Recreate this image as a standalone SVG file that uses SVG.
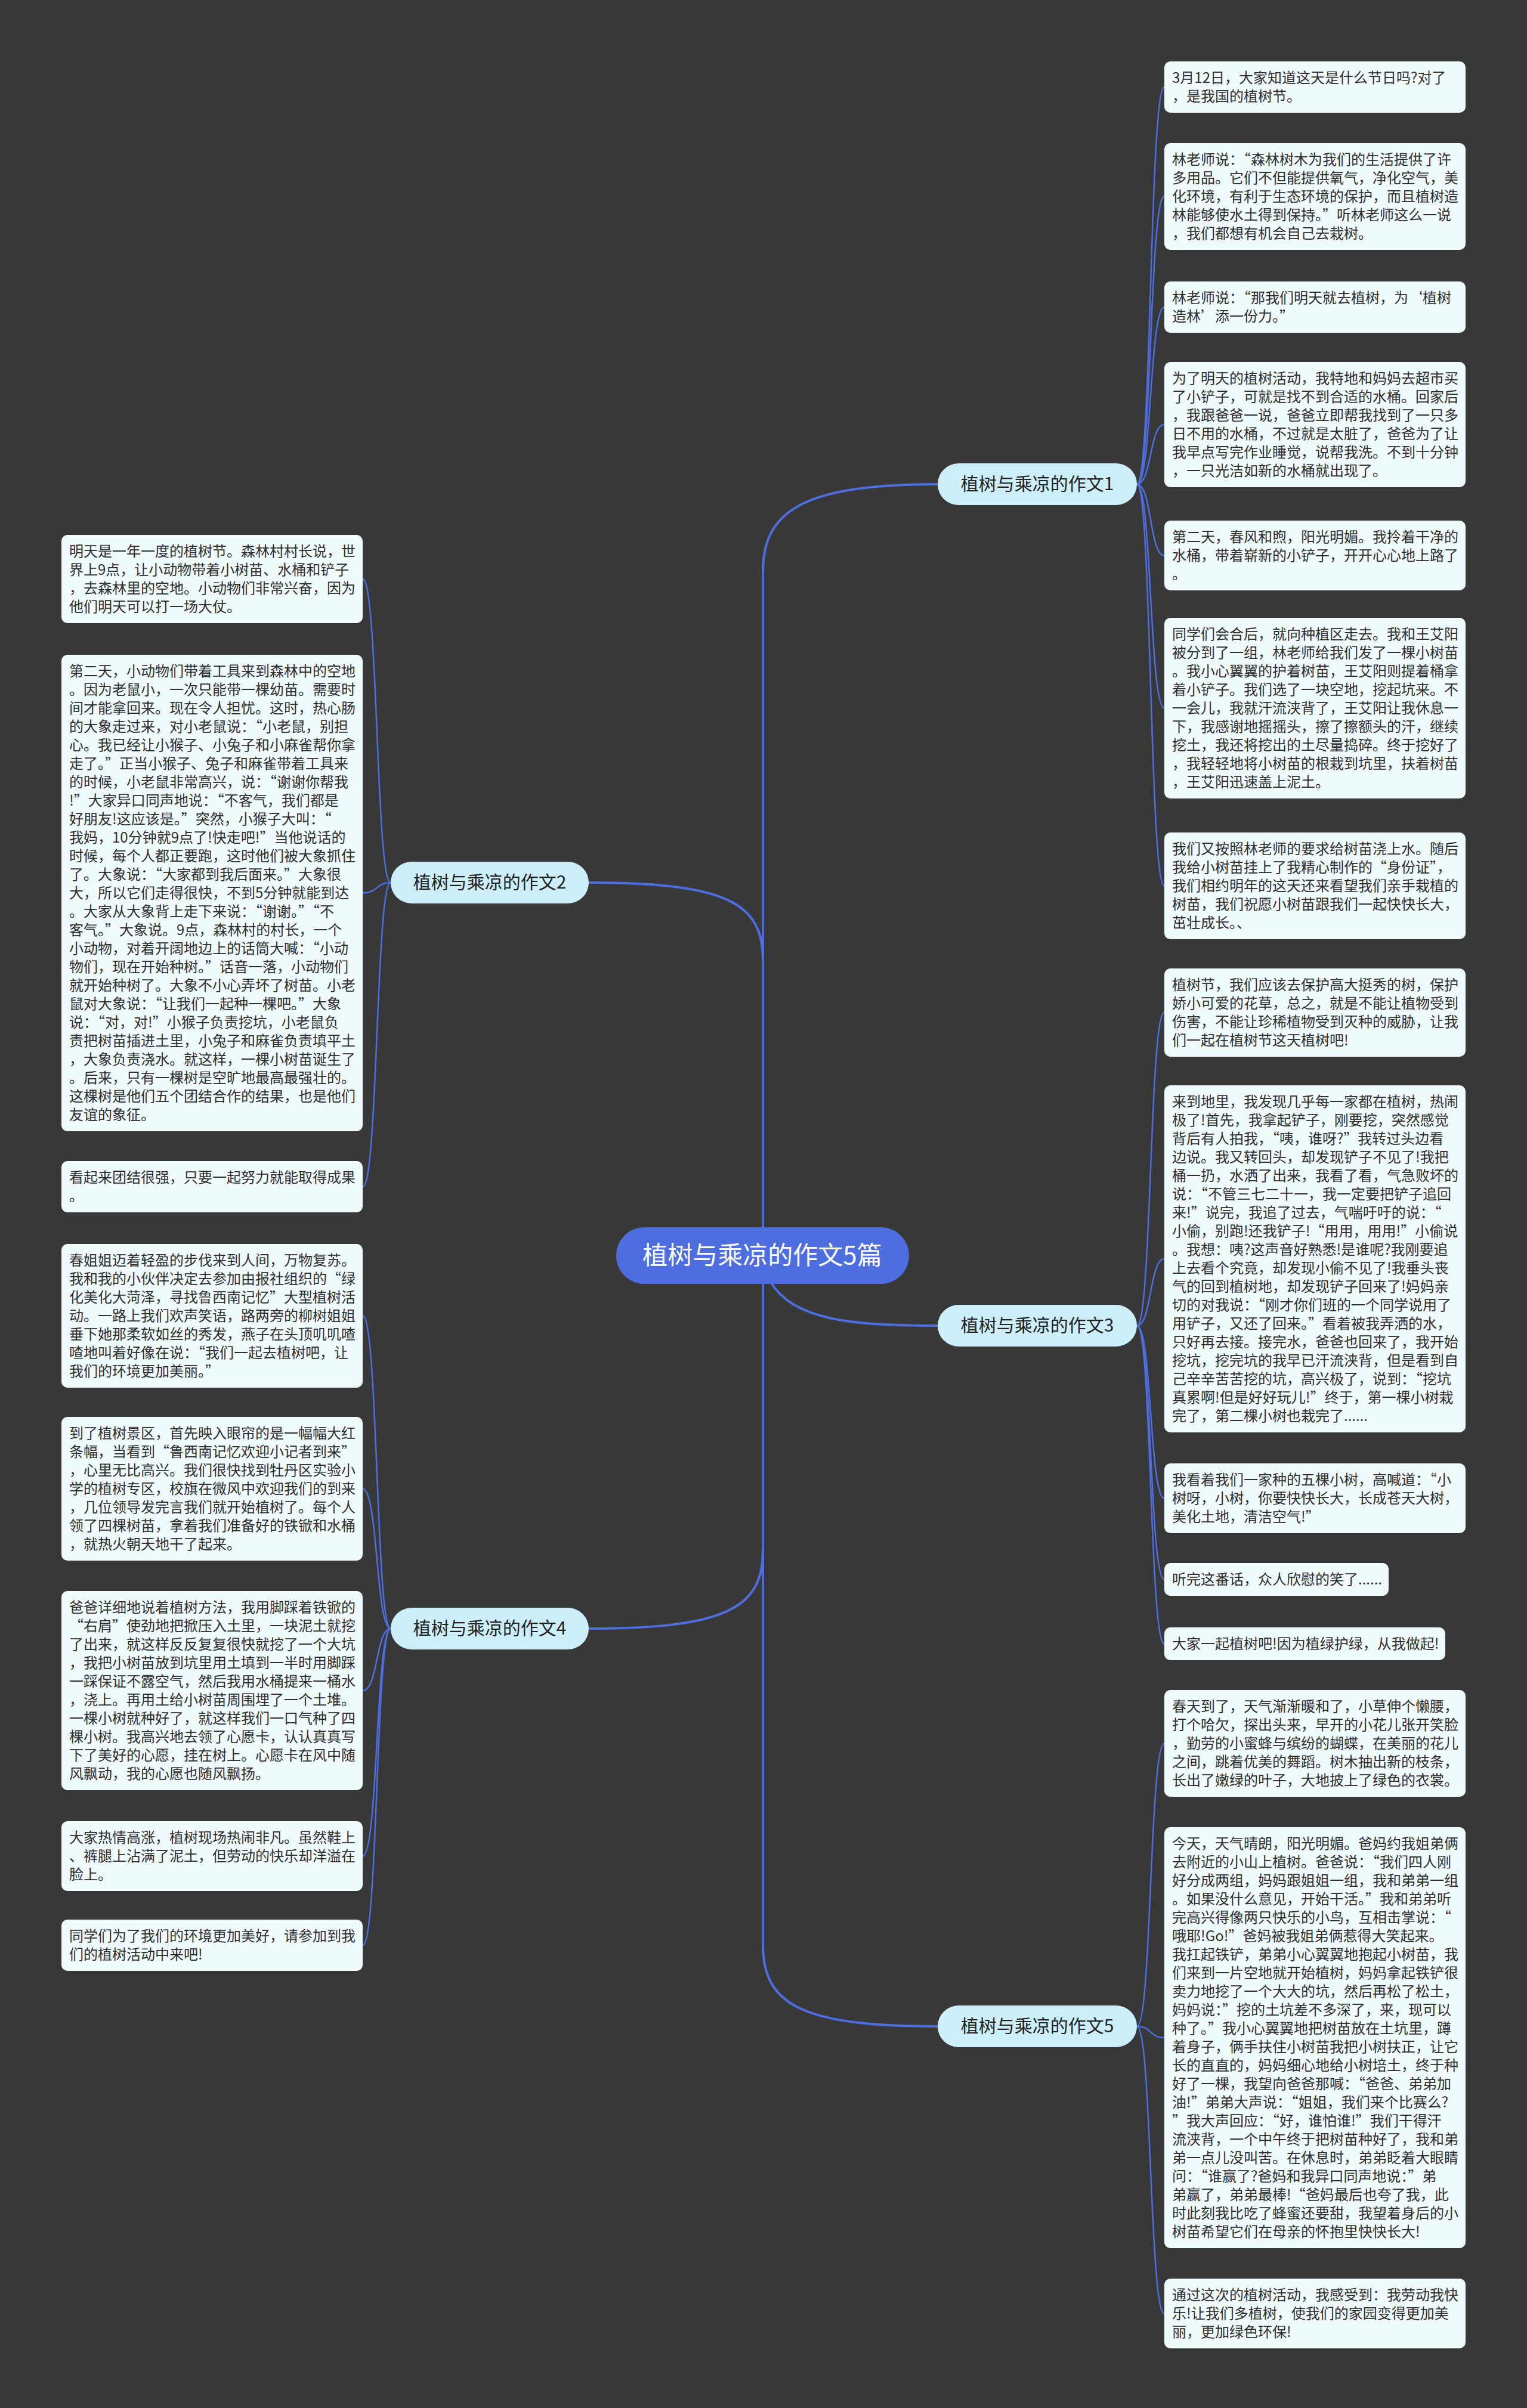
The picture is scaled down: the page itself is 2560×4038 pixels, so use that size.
<svg xmlns="http://www.w3.org/2000/svg" width="2560" height="4038" viewBox="0 0 2560 4038">
<style>
.bg{fill:#393839}
.leaf rect{fill:#f0fbfe}
.leaf text{font-family:"Noto Sans CJK SC","Noto Sans",sans-serif;font-size:24px;fill:#2e2e2e}
.branch rect{fill:#cdeffb}
.branch text{font-family:"Noto Sans CJK SC","Noto Sans",sans-serif;font-size:30px;fill:#222;text-anchor:middle}
.center rect{fill:#4e6ee0}
.center text{font-family:"Noto Sans CJK SC","Noto Sans",sans-serif;font-size:42px;fill:#fff;text-anchor:middle}
.main path{fill:none;stroke:#4e6ee0;stroke-width:4}
.sub path{fill:none;stroke:#4e6ee0;stroke-width:2.5}
</style>
<rect class="bg" x="0" y="0" width="2560" height="4038"/>
<g id="connectors">
<g class="main">
<path d="M1279 2060 V960 C1279 860 1340 812 1572 812"/>
<path d="M1279 2060 V1610 C1279 1515 1220 1480 987 1480"/>
<path d="M1292 2150 C1330 2212 1420 2223 1572 2223"/>
<path d="M1279 2150 V2600 C1279 2695 1220 2731 987 2731"/>
<path d="M1279 2150 V3260 C1279 3360 1340 3398 1572 3398"/>
</g>
<g class="sub">
<path d="M1906 812 C1931 812 1927 146 1952 146"/>
<path d="M1906 812 C1931 812 1927 329.5 1952 329.5"/>
<path d="M1906 812 C1931 812 1927 515 1952 515"/>
<path d="M1906 812 C1931 812 1927 712 1952 712"/>
<path d="M1906 812 C1931 812 1927 931.5 1952 931.5"/>
<path d="M1906 812 C1931 812 1927 1187.5 1952 1187.5"/>
<path d="M1906 812 C1931 812 1927 1485.5 1952 1485.5"/>
<path d="M1906 2223 C1931 2223 1927 1698 1952 1698"/>
<path d="M1906 2223 C1931 2223 1927 2111 1952 2111"/>
<path d="M1906 2223 C1931 2223 1927 2512.5 1952 2512.5"/>
<path d="M1906 2223 C1931 2223 1927 2648.5 1952 2648.5"/>
<path d="M1906 2223 C1931 2223 1927 2756.5 1952 2756.5"/>
<path d="M1906 3398 C1931 3398 1927 2923.5 1952 2923.5"/>
<path d="M1906 3398 C1931 3398 1927 3417 1952 3417"/>
<path d="M1906 3398 C1931 3398 1927 3879.5 1952 3879.5"/>
<path d="M655 1480 C630 1480 634 971 608 971"/>
<path d="M655 1480 C630 1480 634 1497.5 608 1497.5"/>
<path d="M655 1480 C630 1480 634 1990 608 1990"/>
<path d="M655 2731 C630 2731 634 2206.5 608 2206.5"/>
<path d="M655 2731 C630 2731 634 2496.5 608 2496.5"/>
<path d="M655 2731 C630 2731 634 2835 608 2835"/>
<path d="M655 2731 C630 2731 634 3112.5 608 3112.5"/>
<path d="M655 2731 C630 2731 634 3262 608 3262"/>
</g>
</g>
<g id="center" class="center">
<rect x="1033" y="2058" width="491" height="95" rx="47.5"/>
<text x="1278" y="2120">植树与乘凉的作文5篇</text>
</g>
<g id="b1" class="branch"><rect x="1572" y="777" width="334" height="70" rx="35"/><text x="1739" y="822">植树与乘凉的作文1</text></g>
<g id="b2" class="branch"><rect x="655" y="1445" width="332" height="70" rx="35"/><text x="821" y="1490">植树与乘凉的作文2</text></g>
<g id="b3" class="branch"><rect x="1572" y="2188" width="334" height="70" rx="35"/><text x="1739" y="2233">植树与乘凉的作文3</text></g>
<g id="b4" class="branch"><rect x="655" y="2696" width="332" height="70" rx="35"/><text x="821" y="2741">植树与乘凉的作文4</text></g>
<g id="b5" class="branch"><rect x="1572" y="3363" width="334" height="70" rx="35"/><text x="1739" y="3408">植树与乘凉的作文5</text></g>

<g id="r1" class="leaf"><rect x="1952" y="103" width="505" height="86" rx="10"/>
<text x="1965" y="139"><tspan x="1965">3月12日，大家知道这天是什么节日吗?对了</tspan><tspan x="1965" dy="31">，是我国的植树节。</tspan></text></g>
<g id="r2" class="leaf"><rect x="1952" y="240" width="505" height="179" rx="10"/>
<text x="1965" y="276"><tspan x="1965">林老师说：“森林树木为我们的生活提供了许</tspan><tspan x="1965" dy="31">多用品。它们不但能提供氧气，净化空气，美</tspan><tspan x="1965" dy="31">化环境，有利于生态环境的保护，而且植树造</tspan><tspan x="1965" dy="31">林能够使水土得到保持。”听林老师这么一说</tspan><tspan x="1965" dy="31">，我们都想有机会自己去栽树。</tspan></text></g>
<g id="r3" class="leaf"><rect x="1952" y="472" width="505" height="86" rx="10"/>
<text x="1965" y="508"><tspan x="1965">林老师说：“那我们明天就去植树，为‘植树</tspan><tspan x="1965" dy="31">造林’添一份力。”</tspan></text></g>
<g id="r4" class="leaf"><rect x="1952" y="607" width="505" height="210" rx="10"/>
<text x="1965" y="643"><tspan x="1965">为了明天的植树活动，我特地和妈妈去超市买</tspan><tspan x="1965" dy="31">了小铲子，可就是找不到合适的水桶。回家后</tspan><tspan x="1965" dy="31">，我跟爸爸一说，爸爸立即帮我找到了一只多</tspan><tspan x="1965" dy="31">日不用的水桶，不过就是太脏了，爸爸为了让</tspan><tspan x="1965" dy="31">我早点写完作业睡觉，说帮我洗。不到十分钟</tspan><tspan x="1965" dy="31">，一只光洁如新的水桶就出现了。</tspan></text></g>
<g id="r5" class="leaf"><rect x="1952" y="873" width="505" height="117" rx="10"/>
<text x="1965" y="909"><tspan x="1965">第二天，春风和煦，阳光明媚。我拎着干净的</tspan><tspan x="1965" dy="31">水桶，带着崭新的小铲子，开开心心地上路了</tspan><tspan x="1965" dy="31">。</tspan></text></g>
<g id="r6" class="leaf"><rect x="1952" y="1036" width="505" height="303" rx="10"/>
<text x="1965" y="1072"><tspan x="1965">同学们会合后，就向种植区走去。我和王艾阳</tspan><tspan x="1965" dy="31">被分到了一组，林老师给我们发了一棵小树苗</tspan><tspan x="1965" dy="31">。我小心翼翼的护着树苗，王艾阳则提着桶拿</tspan><tspan x="1965" dy="31">着小铲子。我们选了一块空地，挖起坑来。不</tspan><tspan x="1965" dy="31">一会儿，我就汗流浃背了，王艾阳让我休息一</tspan><tspan x="1965" dy="31">下，我感谢地摇摇头，擦了擦额头的汗，继续</tspan><tspan x="1965" dy="31">挖土，我还将挖出的土尽量捣碎。终于挖好了</tspan><tspan x="1965" dy="31">，我轻轻地将小树苗的根栽到坑里，扶着树苗</tspan><tspan x="1965" dy="31">，王艾阳迅速盖上泥土。</tspan></text></g>
<g id="r7" class="leaf"><rect x="1952" y="1396" width="505" height="179" rx="10"/>
<text x="1965" y="1432"><tspan x="1965">我们又按照林老师的要求给树苗浇上水。随后</tspan><tspan x="1965" dy="31">我给小树苗挂上了我精心制作的“身份证”，</tspan><tspan x="1965" dy="31">我们相约明年的这天还来看望我们亲手栽植的</tspan><tspan x="1965" dy="31">树苗，我们祝愿小树苗跟我们一起快快长大，</tspan><tspan x="1965" dy="31">茁壮成长。、</tspan></text></g>
<g id="r8" class="leaf"><rect x="1952" y="1624" width="505" height="148" rx="10"/>
<text x="1965" y="1660"><tspan x="1965">植树节，我们应该去保护高大挺秀的树，保护</tspan><tspan x="1965" dy="31">娇小可爱的花草，总之，就是不能让植物受到</tspan><tspan x="1965" dy="31">伤害，不能让珍稀植物受到灭种的威胁，让我</tspan><tspan x="1965" dy="31">们一起在植树节这天植树吧!</tspan></text></g>
<g id="r9" class="leaf"><rect x="1952" y="1820" width="505" height="582" rx="10"/>
<text x="1965" y="1856"><tspan x="1965">来到地里，我发现几乎每一家都在植树，热闹</tspan><tspan x="1965" dy="31">极了!首先，我拿起铲子，刚要挖，突然感觉</tspan><tspan x="1965" dy="31">背后有人拍我，“咦，谁呀?”我转过头边看</tspan><tspan x="1965" dy="31">边说。我又转回头，却发现铲子不见了!我把</tspan><tspan x="1965" dy="31">桶一扔，水洒了出来，我看了看，气急败坏的</tspan><tspan x="1965" dy="31">说：“不管三七二十一，我一定要把铲子追回</tspan><tspan x="1965" dy="31">来!”说完，我追了过去，气喘吁吁的说：“</tspan><tspan x="1965" dy="31">小偷，别跑!还我铲子!“用用，用用!”小偷说</tspan><tspan x="1965" dy="31">。我想：咦?这声音好熟悉!是谁呢?我刚要追</tspan><tspan x="1965" dy="31">上去看个究竟，却发现小偷不见了!我垂头丧</tspan><tspan x="1965" dy="31">气的回到植树地，却发现铲子回来了!妈妈亲</tspan><tspan x="1965" dy="31">切的对我说：“刚才你们班的一个同学说用了</tspan><tspan x="1965" dy="31">用铲子，又还了回来。”看着被我弄洒的水，</tspan><tspan x="1965" dy="31">只好再去接。接完水，爸爸也回来了，我开始</tspan><tspan x="1965" dy="31">挖坑，挖完坑的我早已汗流浃背，但是看到自</tspan><tspan x="1965" dy="31">己辛辛苦苦挖的坑，高兴极了，说到：“挖坑</tspan><tspan x="1965" dy="31">真累啊!但是好好玩儿!”终于，第一棵小树栽</tspan><tspan x="1965" dy="31">完了，第二棵小树也栽完了......</tspan></text></g>
<g id="r10" class="leaf"><rect x="1952" y="2454" width="505" height="117" rx="10"/>
<text x="1965" y="2490"><tspan x="1965">我看着我们一家种的五棵小树，高喊道：“小</tspan><tspan x="1965" dy="31">树呀，小树，你要快快长大，长成苍天大树，</tspan><tspan x="1965" dy="31">美化土地，清洁空气!”</tspan></text></g>
<g id="r11" class="leaf"><rect x="1952" y="2621" width="376" height="55" rx="10"/>
<text x="1965" y="2657">听完这番话，众人欣慰的笑了......</text></g>
<g id="r12" class="leaf"><rect x="1952" y="2729" width="471" height="55" rx="10"/>
<text x="1965" y="2765">大家一起植树吧!因为植绿护绿，从我做起!</text></g>
<g id="r13" class="leaf"><rect x="1952" y="2834" width="505" height="179" rx="10"/>
<text x="1965" y="2870"><tspan x="1965">春天到了，天气渐渐暖和了，小草伸个懒腰，</tspan><tspan x="1965" dy="31">打个哈欠，探出头来，早开的小花儿张开笑脸</tspan><tspan x="1965" dy="31">，勤劳的小蜜蜂与缤纷的蝴蝶，在美丽的花儿</tspan><tspan x="1965" dy="31">之间，跳着优美的舞蹈。树木抽出新的枝条，</tspan><tspan x="1965" dy="31">长出了嫩绿的叶子，大地披上了绿色的衣裳。</tspan></text></g>
<g id="r14" class="leaf"><rect x="1952" y="3064" width="505" height="706" rx="10"/>
<text x="1965" y="3100"><tspan x="1965">今天，天气晴朗，阳光明媚。爸妈约我姐弟俩</tspan><tspan x="1965" dy="31">去附近的小山上植树。爸爸说：“我们四人刚</tspan><tspan x="1965" dy="31">好分成两组，妈妈跟姐姐一组，我和弟弟一组</tspan><tspan x="1965" dy="31">。如果没什么意见，开始干活。”我和弟弟听</tspan><tspan x="1965" dy="31">完高兴得像两只快乐的小鸟，互相击掌说：“</tspan><tspan x="1965" dy="31">哦耶!Go!”爸妈被我姐弟俩惹得大笑起来。</tspan><tspan x="1965" dy="31">我扛起铁铲，弟弟小心翼翼地抱起小树苗，我</tspan><tspan x="1965" dy="31">们来到一片空地就开始植树，妈妈拿起铁铲很</tspan><tspan x="1965" dy="31">卖力地挖了一个大大的坑，然后再松了松土，</tspan><tspan x="1965" dy="31">妈妈说：”挖的土坑差不多深了，来，现可以</tspan><tspan x="1965" dy="31">种了。”我小心翼翼地把树苗放在土坑里，蹲</tspan><tspan x="1965" dy="31">着身子，俩手扶住小树苗我把小树扶正，让它</tspan><tspan x="1965" dy="31">长的直直的，妈妈细心地给小树培土，终于种</tspan><tspan x="1965" dy="31">好了一棵，我望向爸爸那喊：“爸爸、弟弟加</tspan><tspan x="1965" dy="31">油!”弟弟大声说：“姐姐，我们来个比赛么?</tspan><tspan x="1965" dy="31">”我大声回应：“好，谁怕谁!”我们干得汗</tspan><tspan x="1965" dy="31">流浃背，一个中午终于把树苗种好了，我和弟</tspan><tspan x="1965" dy="31">弟一点儿没叫苦。在休息时，弟弟眨着大眼睛</tspan><tspan x="1965" dy="31">问：“谁赢了?爸妈和我异口同声地说：”弟</tspan><tspan x="1965" dy="31">弟赢了，弟弟最棒!“爸妈最后也夸了我，此</tspan><tspan x="1965" dy="31">时此刻我比吃了蜂蜜还要甜，我望着身后的小</tspan><tspan x="1965" dy="31">树苗希望它们在母亲的怀抱里快快长大!</tspan></text></g>
<g id="r15" class="leaf"><rect x="1952" y="3821" width="505" height="117" rx="10"/>
<text x="1965" y="3857"><tspan x="1965">通过这次的植树活动，我感受到：我劳动我快</tspan><tspan x="1965" dy="31">乐!让我们多植树，使我们的家园变得更加美</tspan><tspan x="1965" dy="31">丽，更加绿色环保!</tspan></text></g>

<g id="l1" class="leaf"><rect x="103" y="897" width="505" height="148" rx="10"/>
<text x="116" y="933"><tspan x="116">明天是一年一度的植树节。森林村村长说，世</tspan><tspan x="116" dy="31">界上9点，让小动物带着小树苗、水桶和铲子</tspan><tspan x="116" dy="31">，去森林里的空地。小动物们非常兴奋，因为</tspan><tspan x="116" dy="31">他们明天可以打一场大仗。</tspan></text></g>
<g id="l2" class="leaf"><rect x="103" y="1098" width="505" height="799" rx="10"/>
<text x="116" y="1134"><tspan x="116">第二天，小动物们带着工具来到森林中的空地</tspan><tspan x="116" dy="31">。因为老鼠小，一次只能带一棵幼苗。需要时</tspan><tspan x="116" dy="31">间才能拿回来。现在令人担忧。这时，热心肠</tspan><tspan x="116" dy="31">的大象走过来，对小老鼠说：“小老鼠，别担</tspan><tspan x="116" dy="31">心。我已经让小猴子、小兔子和小麻雀帮你拿</tspan><tspan x="116" dy="31">走了。”正当小猴子、兔子和麻雀带着工具来</tspan><tspan x="116" dy="31">的时候，小老鼠非常高兴，说：“谢谢你帮我</tspan><tspan x="116" dy="31">!”大家异口同声地说：“不客气，我们都是</tspan><tspan x="116" dy="31">好朋友!这应该是。”突然，小猴子大叫：“</tspan><tspan x="116" dy="31">我妈，10分钟就9点了!快走吧!”当他说话的</tspan><tspan x="116" dy="31">时候，每个人都正要跑，这时他们被大象抓住</tspan><tspan x="116" dy="31">了。大象说：“大家都到我后面来。”大象很</tspan><tspan x="116" dy="31">大，所以它们走得很快，不到5分钟就能到达</tspan><tspan x="116" dy="31">。大家从大象背上走下来说：“谢谢。”“不</tspan><tspan x="116" dy="31">客气。”大象说。9点，森林村的村长，一个</tspan><tspan x="116" dy="31">小动物，对着开阔地边上的话筒大喊：“小动</tspan><tspan x="116" dy="31">物们，现在开始种树。”话音一落，小动物们</tspan><tspan x="116" dy="31">就开始种树了。大象不小心弄坏了树苗。小老</tspan><tspan x="116" dy="31">鼠对大象说：“让我们一起种一棵吧。”大象</tspan><tspan x="116" dy="31">说：“对，对!”小猴子负责挖坑，小老鼠负</tspan><tspan x="116" dy="31">责把树苗插进土里，小兔子和麻雀负责填平土</tspan><tspan x="116" dy="31">，大象负责浇水。就这样，一棵小树苗诞生了</tspan><tspan x="116" dy="31">。后来，只有一棵树是空旷地最高最强壮的。</tspan><tspan x="116" dy="31">这棵树是他们五个团结合作的结果，也是他们</tspan><tspan x="116" dy="31">友谊的象征。</tspan></text></g>
<g id="l3" class="leaf"><rect x="103" y="1947" width="505" height="86" rx="10"/>
<text x="116" y="1983"><tspan x="116">看起来团结很强，只要一起努力就能取得成果</tspan><tspan x="116" dy="31">。</tspan></text></g>
<g id="l4" class="leaf"><rect x="103" y="2086" width="505" height="241" rx="10"/>
<text x="116" y="2122"><tspan x="116">春姐姐迈着轻盈的步伐来到人间，万物复苏。</tspan><tspan x="116" dy="31">我和我的小伙伴决定去参加由报社组织的“绿</tspan><tspan x="116" dy="31">化美化大菏泽，寻找鲁西南记忆”大型植树活</tspan><tspan x="116" dy="31">动。一路上我们欢声笑语，路两旁的柳树姐姐</tspan><tspan x="116" dy="31">垂下她那柔软如丝的秀发，燕子在头顶叽叽喳</tspan><tspan x="116" dy="31">喳地叫着好像在说：“我们一起去植树吧，让</tspan><tspan x="116" dy="31">我们的环境更加美丽。”</tspan></text></g>
<g id="l5" class="leaf"><rect x="103" y="2376" width="505" height="241" rx="10"/>
<text x="116" y="2412"><tspan x="116">到了植树景区，首先映入眼帘的是一幅幅大红</tspan><tspan x="116" dy="31">条幅，当看到“鲁西南记忆欢迎小记者到来”</tspan><tspan x="116" dy="31">，心里无比高兴。我们很快找到牡丹区实验小</tspan><tspan x="116" dy="31">学的植树专区，校旗在微风中欢迎我们的到来</tspan><tspan x="116" dy="31">，几位领导发完言我们就开始植树了。每个人</tspan><tspan x="116" dy="31">领了四棵树苗，拿着我们准备好的铁锨和水桶</tspan><tspan x="116" dy="31">，就热火朝天地干了起来。</tspan></text></g>
<g id="l6" class="leaf"><rect x="103" y="2668" width="505" height="334" rx="10"/>
<text x="116" y="2704"><tspan x="116">爸爸详细地说着植树方法，我用脚踩着铁锨的</tspan><tspan x="116" dy="31">“右肩”使劲地把掀压入土里，一块泥土就挖</tspan><tspan x="116" dy="31">了出来，就这样反反复复很快就挖了一个大坑</tspan><tspan x="116" dy="31">，我把小树苗放到坑里用土填到一半时用脚踩</tspan><tspan x="116" dy="31">一踩保证不露空气，然后我用水桶提来一桶水</tspan><tspan x="116" dy="31">，浇上。再用土给小树苗周围埋了一个土堆。</tspan><tspan x="116" dy="31">一棵小树就种好了，就这样我们一口气种了四</tspan><tspan x="116" dy="31">棵小树。我高兴地去领了心愿卡，认认真真写</tspan><tspan x="116" dy="31">下了美好的心愿，挂在树上。心愿卡在风中随</tspan><tspan x="116" dy="31">风飘动，我的心愿也随风飘扬。</tspan></text></g>
<g id="l7" class="leaf"><rect x="103" y="3054" width="505" height="117" rx="10"/>
<text x="116" y="3090"><tspan x="116">大家热情高涨，植树现场热闹非凡。虽然鞋上</tspan><tspan x="116" dy="31">、裤腿上沾满了泥土，但劳动的快乐却洋溢在</tspan><tspan x="116" dy="31">脸上。</tspan></text></g>
<g id="l8" class="leaf"><rect x="103" y="3219" width="505" height="86" rx="10"/>
<text x="116" y="3255"><tspan x="116">同学们为了我们的环境更加美好，请参加到我</tspan><tspan x="116" dy="31">们的植树活动中来吧!</tspan></text></g>
</svg>
